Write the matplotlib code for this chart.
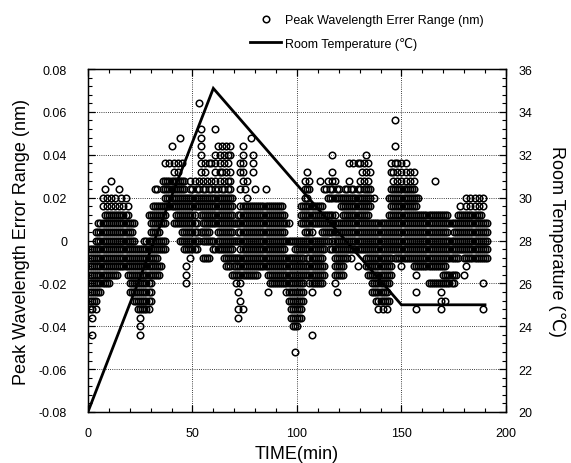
import matplotlib
matplotlib.use("Agg")
import matplotlib.pyplot as plt
from matplotlib.lines import Line2D
from matplotlib.ticker import MultipleLocator, FixedLocator
import numpy as np

plt.rcParams['font.family'] = ['Liberation Sans', 'DejaVu Sans']

# ---- data: peak wavelength error (nm) quantised in 0.004 nm steps; times (min) per level ----
lvl_p064 = [53]
lvl_p056 = [147]
lvl_p052 = [54, 61]
lvl_p048 = [44, 54, 78]
lvl_p044 = [40, 54, 62, 64, 66, 68, 74, 147]
lvl_p040 = [54, 61, 63, 65, 67, 68, 74, 79, 117, 133]
lvl_p036 = [37, 39, 41, 43, 45, 54, 56, 58, 59, 61, 63, 65, 67, 73, 74, 79,
            125, 127, 129, 130, 132, 134, 145, 147, 148, 150, 152]
lvl_p032 = [41, 43, 54, 56, 61, 63, 64, 66, 68, 73, 74, 79, 105, 117, 131, 133, 135,
            145, 146, 148, 150, 152, 154, 156]
lvl_p028 = [11, 36, 37, 38, 39, 40, 41, 42, 43, 44, 45, 46, 49, 51, 53, 55, 57, 59, 61,
            63, 65, 67, 68, 74, 76, 104, 106, 111, 115, 117, 118, 125, 130, 132, 134,
            146, 148, 150, 152, 154, 156, 166]
lvl_p024 = [8, 15, 32, 33, 36, 37, 38, 39, 40, 41, 42, 43, 44, 45, 46, 49, 50, 52, 53,
            55, 56, 58, 59, 61, 62, 64, 65, 67, 68, 73, 75, 80, 85, 104, 105, 106, 113,
            114, 116, 117, 119, 120, 123, 124, 126, 127, 129, 130, 132, 133, 134, 135,
            145, 146, 147, 148, 149, 150, 151, 152, 153, 154, 155, 156]
lvl_p020 = [7, 9, 11, 13, 16, 18,
            37, 38, 39, 40, 41, 42, 43, 44, 45, 46, 47, 48, 49, 50, 51, 52, 53, 54, 55,
            56, 57, 58, 59, 60, 61, 62, 63, 64, 65, 66, 67, 68, 69, 76, 104, 105,
            115, 116, 117, 118, 119, 120, 121, 122, 123, 124, 125, 126, 127, 128, 129,
            130, 131, 132, 133, 134, 135, 137,
            144, 145, 146, 147, 148, 149, 150, 151, 152, 153, 154, 155, 156, 157, 158,
            181, 183, 185, 187, 189]
lvl_p016 = [7, 9, 11, 13, 15, 17, 19,
            31, 32, 33, 34, 35, 36, 37, 38, 39, 40, 41, 42, 43, 44, 45, 46, 47, 48, 49,
            50, 51, 52, 53, 54, 55, 56, 57, 58, 59, 60, 61, 62, 63, 64, 65, 66, 67, 68, 69,
            73, 74, 75, 76, 77, 78, 79, 80, 81, 82, 83, 84, 85, 86, 87, 88, 89, 90, 91, 92, 93,
            102, 103, 104, 105, 106, 107, 108, 109, 110, 111, 112,
            121, 122, 123, 124, 125, 126, 127, 128, 129, 130, 131, 132, 133, 134, 135,
            145, 146, 147, 148, 149, 150, 151, 152, 153, 154, 155, 156, 157,
            178, 181, 183, 185, 187, 189]
lvl_p012 = [8, 9, 10, 11, 12, 13, 14, 15, 16, 17, 18, 19,
            29, 30, 31, 32, 33, 34, 35, 36, 37,
            42, 43, 44, 45, 46, 47, 48, 49, 50, 51,
            54, 55, 56, 57, 58, 59, 60, 61, 62, 63, 64, 65, 66, 67, 68, 69,
            72, 73, 74, 75, 76, 77, 78, 79, 80, 81, 82, 83, 84, 85, 86, 87, 88, 89, 90, 91,
            92, 93, 94,
            102, 103, 104, 105, 106, 107, 108, 109, 110, 111, 112, 113, 114, 115, 116, 117, 118,
            122, 123, 124, 125, 126, 127, 128, 129, 130, 131, 132, 133, 134,
            144, 145, 146, 147, 148, 149, 150, 151, 152, 153, 154, 155, 156, 157, 158, 159,
            160, 161, 162, 163, 164, 165, 166, 167, 168, 169, 170, 171, 172,
            177, 178, 179, 180, 181, 182, 183, 184, 185, 186, 187, 188]
lvl_p008 = [5, 6, 7, 8, 9, 10, 11, 12, 13, 14, 15, 16, 17, 18, 19, 20, 21, 22,
            30, 31, 32, 33, 34, 35, 36, 37,
            41, 42, 43, 44, 45, 46, 47, 48, 49, 50, 51, 52,
            55, 56, 57, 58, 59, 60, 61, 62, 63, 64, 65, 66, 67, 68, 69, 70, 71, 72, 73, 74,
            75, 76, 77, 78, 79, 80, 81, 82, 83, 84, 85, 86, 87, 88, 89, 90, 91, 92, 93, 94,
            95, 96,
            102, 103, 104, 105, 106, 107, 108, 109, 110, 111, 112, 113, 114, 115, 116, 117,
            118, 119, 120, 121, 122, 123, 124, 125, 126, 127, 128, 129, 130, 131, 132, 133,
            134, 135, 136, 137, 138, 139, 140, 141, 142, 143, 144, 145, 146, 147, 148, 149,
            150, 151, 152, 153, 154, 155, 156, 157, 158, 159, 160, 161, 162, 163, 164, 165,
            166, 167, 168, 169, 170, 171, 172, 173, 174, 175, 176, 177, 178, 179, 180, 181,
            182, 183, 184, 185, 186, 187, 188, 189, 190, 191]
lvl_p004 = [4, 5, 6, 7, 8, 9, 10, 11, 12, 13, 14, 15, 16, 17, 18, 19, 20, 21,
            30, 31, 32, 33, 34,
            45, 46, 47, 48, 49, 50, 51, 52,
            54, 55, 56, 57, 58,
            62, 63, 64, 65, 66, 67, 68, 69,
            72, 73, 74, 75, 76, 77, 78, 79, 80, 81, 82, 83, 84, 85, 86, 87, 88, 89, 90, 91,
            92, 93, 94,
            104, 105, 106, 107,
            112, 113, 114, 115, 116, 117, 118, 119, 120, 121, 122, 123, 124, 125, 126, 127,
            128, 129, 130, 131, 132, 133, 134, 135, 136, 137, 138, 139, 140, 141, 142, 143,
            144, 145, 146, 147, 148, 149, 150, 151, 152, 153, 154, 155, 156, 157, 158, 159,
            160, 161, 162, 163, 164, 165, 166, 167, 168, 169, 170, 171, 172,
            175, 176, 177, 178, 179, 180, 181, 182, 183, 184, 185, 186, 187, 188, 189, 190, 191]
lvl_000 = [4, 5, 6, 7, 8, 9, 10, 11, 12, 13, 14, 15, 16, 17, 18, 19, 20, 21, 22,
           27, 28, 29, 30, 31, 32, 33, 34, 35, 36, 37,
           44, 45, 46, 47, 48, 49, 50, 51, 52, 53,
           55, 56, 57, 58, 59, 60,
           62, 63, 64, 65, 66, 67, 68, 69, 70, 71, 72, 73, 74, 75, 76, 77, 78, 79, 80, 81,
           82, 83, 84, 85, 86, 87, 88, 89, 90, 91, 92, 93, 94, 95, 96, 97, 98, 99, 100, 101,
           102, 103, 104, 105, 106, 107, 108, 109, 110, 111, 112, 113, 114, 115,
           117, 118, 119, 120, 121, 122, 123, 124, 125, 126, 127, 128, 129, 130, 131, 132,
           133, 134, 135, 136, 137, 138, 139, 140, 141, 142, 143, 144, 145, 146, 147, 148,
           149, 150, 151, 152, 153, 154, 155, 156, 157, 158, 159, 160, 161, 162, 163, 164,
           165, 166, 167, 168, 169, 170, 171, 172, 173, 174, 175, 176, 177, 178, 179, 180,
           181, 182, 183, 184, 185, 186, 187, 188, 189, 190, 191]
lvl_m004 = [1, 2, 3, 4, 5, 6, 7, 8, 9, 10, 11, 12, 13, 14, 15, 16, 17, 18, 19, 20, 21,
            22, 23, 24, 25, 26, 27, 28, 29, 30, 31, 32, 33, 34, 35, 36, 37,
            46, 47, 48, 49, 50, 51, 52,
            60, 61, 62, 63, 64, 65, 66, 67, 68, 69,
            73, 74, 75, 76, 77, 78, 79, 80, 81, 82, 83, 84, 85, 86, 87, 88, 89, 90, 91, 92,
            93, 94,
            99, 100, 101, 102, 103, 104, 105, 106, 107, 108, 109, 110, 111, 112, 113,
            116, 117, 118, 119, 120, 121, 122, 123, 124, 125, 126, 127, 128, 129, 130, 131,
            132, 133, 134, 135, 136, 137, 138, 139, 140, 141, 142, 143, 144, 145, 146, 147,
            148, 149, 150, 151, 152, 153, 154, 155, 156, 157, 158, 159, 160, 161, 162, 163,
            164, 165, 166, 167, 168, 169, 170, 171, 172, 173, 174, 175, 176, 177, 178, 179,
            180, 181, 182, 183, 184, 185, 186, 187, 188, 189, 190, 191]
lvl_m008 = [1, 2, 3, 4, 5, 6, 7, 8, 9, 10, 11, 12, 13, 14, 15, 16, 17, 18, 19, 20, 21,
            22, 23, 24, 25, 26, 27, 28, 29, 30, 31, 32, 33,
            49, 55, 56, 57, 58,
            65, 66, 67, 68, 69, 70, 71, 72, 73, 74, 75, 76, 77, 78, 79, 80, 81, 82, 83, 84,
            85, 86, 87, 88, 89, 90, 91, 92, 93, 94, 95, 96, 97, 98, 99, 100, 101, 102, 103,
            105, 106, 107, 108, 109, 110, 111, 112,
            118, 119, 120, 121, 122, 123, 124, 126,
            133, 134, 135, 136, 137, 138, 139, 140, 141, 142, 143, 144, 145,
            147, 148, 149, 150, 151, 152, 153, 154, 155, 156, 157, 158, 159, 160, 161, 162,
            163, 164, 165, 166, 167, 168, 169, 170, 171, 172, 173, 174, 175, 176, 177,
            180, 181, 182, 183, 184, 185, 186, 187, 188, 189, 190, 191]
lvl_m012 = [1, 2, 3, 4, 5, 6, 7, 8, 9, 10, 11, 12, 13, 14, 15, 16, 17, 18, 19, 20, 21,
            22, 23, 24, 25, 26, 27, 28, 29, 30, 31, 32, 33, 34, 35,
            47, 66, 67, 68,
            70, 71, 72, 73, 74, 75, 76, 77, 78, 79, 80, 81, 82, 83, 84, 85, 86, 87, 88, 89,
            90, 91, 92, 93, 94, 95, 96, 97, 98, 99, 100, 101, 102, 103, 104, 105, 106, 107,
            108, 109, 110, 111, 112, 113,
            118, 119, 120, 121, 122, 129,
            133, 134, 135, 136, 137, 138, 139, 140, 141, 142, 143, 144, 145, 150,
            156, 157, 158, 159, 160, 161, 162, 163, 164, 165, 166, 167, 168, 169, 170, 171,
            181]
lvl_m016 = [1, 2, 3, 4, 5, 6, 7, 8, 9, 10, 11, 12, 13, 14,
            19, 20, 21, 22, 23, 24, 25, 26, 27, 28, 29, 30, 31, 32, 33, 34, 47,
            69, 70, 71, 72, 73, 74, 75, 76, 77, 78, 79, 80, 81,
            86, 87, 88, 89, 90, 91, 92, 93, 94, 95, 96, 97, 98, 99, 100, 101, 102, 103, 104,
            105, 106, 107, 108, 109, 110, 111, 112, 113,
            118, 119, 120, 121, 122,
            134, 135, 136, 137, 138, 139, 140, 141, 142, 143, 144, 145, 157,
            170, 171, 172, 173, 174, 175, 176, 180]
lvl_m020 = [1, 2, 3, 4, 5, 6, 7, 8, 9, 10,
            20, 21, 22, 23, 24, 25, 26, 27, 28, 29, 30, 47, 71, 73,
            87, 88, 89, 90, 91, 92, 93, 94, 95, 96, 97, 98, 99, 100, 101, 102, 103,
            106, 107, 108, 109, 110, 111, 112, 118,
            136, 137, 138, 139, 140, 141, 142, 143, 144,
            163, 164, 165, 166, 167, 168, 169, 170, 171, 172, 173, 174, 175, 189]
lvl_m024 = [1, 2, 3, 4, 5, 6, 20, 21, 22, 23, 24, 25, 26, 27, 28, 29, 30, 72, 86,
            95, 96, 97, 98, 99, 100, 101, 102, 103, 107, 119,
            136, 137, 138, 139, 140, 141, 142, 143, 157, 169]
lvl_m028 = [1, 2, 3, 4, 22, 23, 24, 25, 26, 27, 28, 29, 30, 73,
            96, 97, 98, 99, 100, 101, 102, 103, 138, 139, 140, 141, 142, 143, 144, 169, 171]
lvl_m032 = [1, 2, 4, 24, 25, 26, 27, 28, 29, 72, 74, 97, 98, 99, 100, 101, 102,
            139, 141, 143, 157, 169, 189]
lvl_m036 = [2, 25, 72, 97, 98, 99, 100, 101, 102]
lvl_m040 = [25, 98, 99, 100]
lvl_m044 = [2, 25, 107]
lvl_m052 = [99]

error_levels = [0.064, 0.056, 0.052, 0.048, 0.044, 0.040, 0.036, 0.032, 0.028, 0.024,
                0.020, 0.016, 0.012, 0.008, 0.004, 0.0, -0.004, -0.008, -0.012, -0.016,
                -0.020, -0.024, -0.028, -0.032, -0.036, -0.040, -0.044, -0.052]
error_times = [lvl_p064, lvl_p056, lvl_p052, lvl_p048, lvl_p044, lvl_p040, lvl_p036,
               lvl_p032, lvl_p028, lvl_p024, lvl_p020, lvl_p016, lvl_p012, lvl_p008,
               lvl_p004, lvl_000, lvl_m004, lvl_m008, lvl_m012, lvl_m016, lvl_m020,
               lvl_m024, lvl_m028, lvl_m032, lvl_m036, lvl_m040, lvl_m044, lvl_m052]

temp_time = [0, 60, 150, 190]
temp_value = [20, 35.1, 25, 25]

x_ticks = [0, 50, 100, 150, 200]
y_ticks = [-0.08, -0.06, -0.04, -0.02, 0, 0.02, 0.04, 0.06, 0.08]
y_tick_labels = ['-0.08', '-0.06', '-0.04', '-0.02', '0', '0.02', '0.04', '0.06', '0.08']
t_ticks = [20, 22, 24, 26, 28, 30, 32, 34, 36]

# ---- build scatter arrays ----
xs, ys = [], []
for lvl, times in zip(error_levels, error_times):
    xs.extend(times)
    ys.extend([lvl] * len(times))

fig = plt.figure(figsize=(5.71, 4.64), dpi=100)
ax = fig.add_axes([0.154, 0.110, 0.732, 0.739])

MS, MEW = 4.7, 1.1
ax.plot(xs, ys, ls='none', marker='o', ms=MS, mfc='none', mec='black', mew=MEW)

ax.set_xlim(0, 200)
ax.set_ylim(-0.08, 0.08)
ax.xaxis.set_major_locator(FixedLocator(x_ticks))
ax.xaxis.set_minor_locator(MultipleLocator(10))
ax.yaxis.set_major_locator(FixedLocator(y_ticks))
ax.set_yticklabels(y_tick_labels)
ax.yaxis.set_minor_locator(MultipleLocator(0.004))
ax.grid(True, which='major', color='black', lw=0.6, ls=(0, (1, 1.6)))
ax.tick_params(which='both', direction='in', top=True, right=False, labelsize=9)
ax.tick_params(which='major', length=5, width=0.9)
ax.tick_params(which='minor', length=3, width=0.8)
ax.tick_params(axis='y', pad=15)
ax.tick_params(axis='x', pad=11)
for s in ax.spines.values():
    s.set_linewidth(1.0)

ax.set_xlabel('TIME(min)', fontsize=13, labelpad=4)
ax.set_ylabel('Peak Wavelength Error Range (nm)', fontsize=13, labelpad=6)

ax2 = ax.twinx()
ax2.plot(temp_time, temp_value, color='black', lw=2.0, solid_joinstyle='miter')
ax2.set_ylim(20, 36)
ax2.yaxis.set_major_locator(FixedLocator(t_ticks))
ax2.yaxis.set_minor_locator(MultipleLocator(0.4))
ax2.tick_params(which='both', direction='in', labelsize=9, pad=9)
ax2.tick_params(which='major', length=5, width=0.9)
ax2.tick_params(which='minor', length=3, width=0.8)
ax2.set_ylabel('Room Temperature (℃)', fontsize=13, rotation=270, labelpad=24)

handles = [Line2D([], [], ls='none', marker='o', ms=MS, mfc='none', mec='black', mew=MEW),
           Line2D([], [], color='black', lw=2.0)]
labels = ['Peak Wavelength Errer Range (nm)', 'Room Temperature (℃)']
fig.legend(handles, labels, loc='upper left', bbox_to_anchor=(250 / 571, 1 - 15 / 464),
           frameon=False, fontsize=9, handlelength=2.5, handletextpad=0.3,
           borderpad=0, borderaxespad=0, labelspacing=0.85, numpoints=1)

fig.savefig('out.png', dpi=100)
